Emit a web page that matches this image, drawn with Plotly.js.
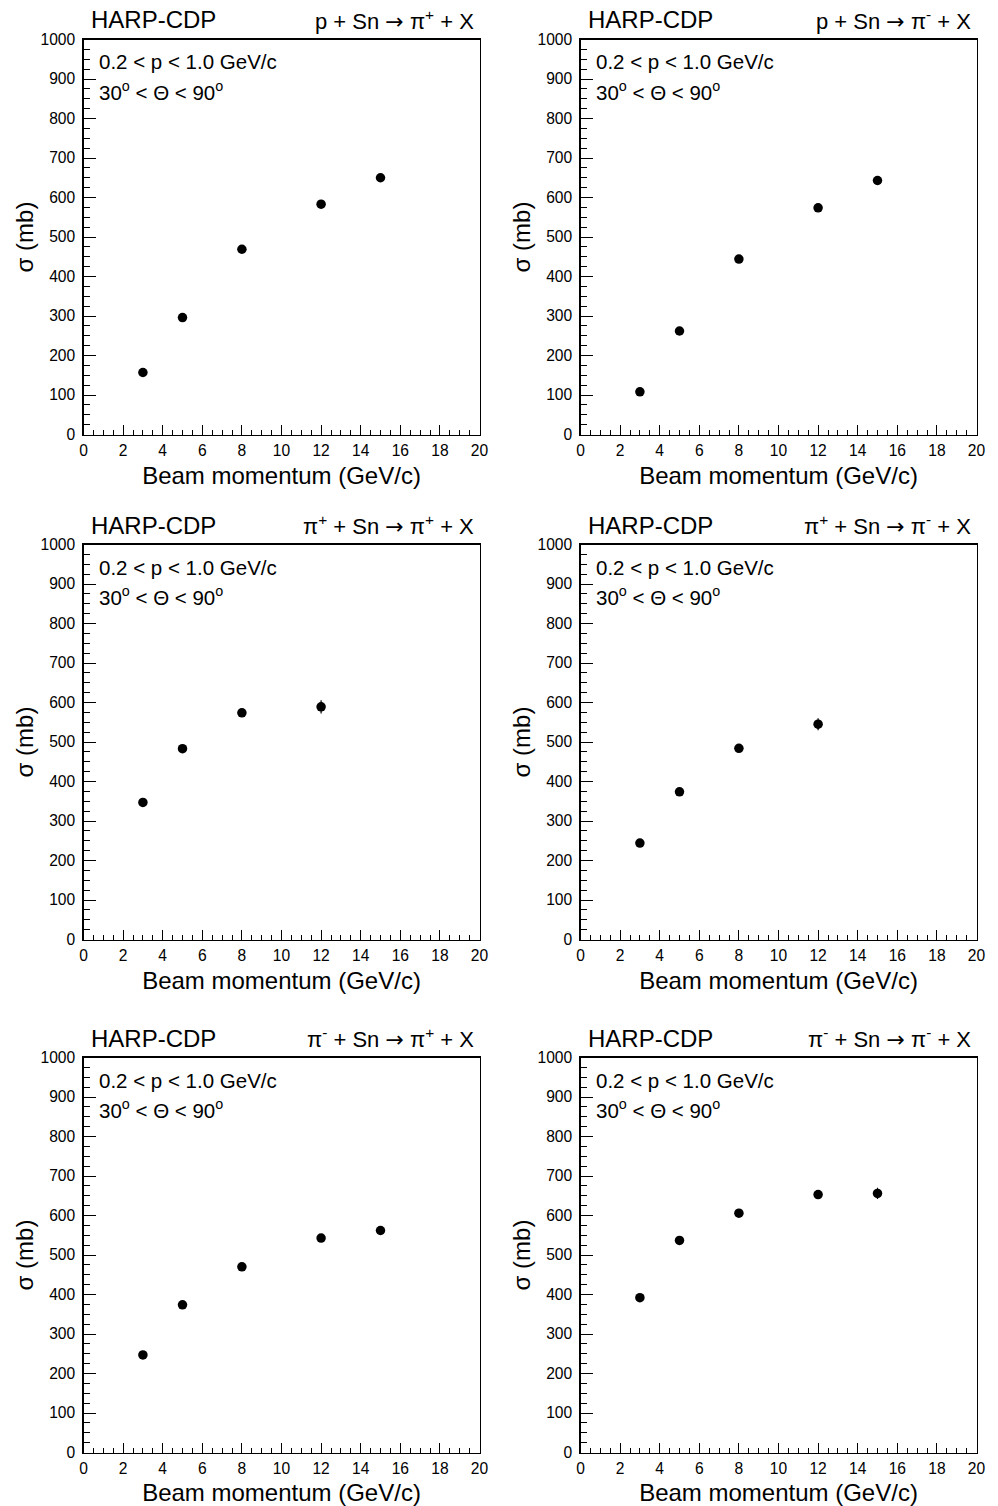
<!DOCTYPE html>
<html>
<head>
<meta charset="utf-8">
<script src="https://cdn.plot.ly/plotly-3.0.1.min.js"></script>
<style>html,body{margin:0;padding:0;background:#fff;}#plot{width:998px;height:1506px;}</style>
</head>
<body>
<div id="plot"></div>
<script>
// ---- data ----
const beamMomentum = [3, 5, 8, 12, 15];
const beamMomentumPip = [3, 5, 8, 12];

const sigma_p_pip = [157, 296, 469, 583, 650];
const err_p_pip   = [4, 5, 6, 6, 7];
const sigma_p_pim = [108, 262, 444, 574, 643];
const err_p_pim   = [3, 5, 6, 6, 7];
const sigma_pip_pip = [347, 483, 574, 589];
const err_pip_pip   = [5, 6, 7, 17];
const sigma_pip_pim = [244, 374, 484, 545];
const err_pip_pim   = [5, 5, 6, 15];
const sigma_pim_pip = [247, 374, 470, 543, 562];
const err_pim_pip   = [4, 5, 6, 6, 9];
const sigma_pim_pim = [392, 537, 606, 653, 656];
const err_pim_pim   = [5, 6, 7, 7, 14];

const ARROW = '<span style="font-family:DejaVu Sans">\u2192</span>';
const reactions = [
  "p + Sn " + ARROW + " \u03c0<sup>+</sup> + X",
  "p + Sn " + ARROW + " \u03c0<sup>-</sup> + X",
  "\u03c0<sup>+</sup> + Sn " + ARROW + " \u03c0<sup>+</sup> + X",
  "\u03c0<sup>+</sup> + Sn " + ARROW + " \u03c0<sup>-</sup> + X",
  "\u03c0<sup>-</sup> + Sn " + ARROW + " \u03c0<sup>+</sup> + X",
  "\u03c0<sup>-</sup> + Sn " + ARROW + " \u03c0<sup>-</sup> + X"
];
const experimentLabel = "HARP-CDP";
const cutLine1 = "0.2 &lt; p &lt; 1.0 GeV/c";
const cutLine2 = "30<sup>o</sup> &lt; \u0398 &lt; 90<sup>o</sup>";
const xTitle = "Beam momentum (GeV/c)";
const yTitle = "\u03c3 (mb)";
const xTickVals = [0, 2, 4, 6, 8, 10, 12, 14, 16, 18, 20];
const yTickVals = [0, 100, 200, 300, 400, 500, 600, 700, 800, 900, 1000];

const panels = [
  {x: beamMomentum, y: sigma_p_pip, e: err_p_pip},
  {x: beamMomentum, y: sigma_p_pim, e: err_p_pim},
  {x: beamMomentumPip, y: sigma_pip_pip, e: err_pip_pip},
  {x: beamMomentumPip, y: sigma_pip_pim, e: err_pip_pim},
  {x: beamMomentum, y: sigma_pim_pip, e: err_pim_pip},
  {x: beamMomentum, y: sigma_pim_pim, e: err_pim_pim}
];

// ---- layout geometry (pixels) ----
const W = 998, H = 1506;
const colLeft = [83.5, 580.5];
const plotW = 396;
const rowTop = [39.5, 544.5, 1057.5];
const plotH = 395;
const px = v => v / W;
const py = v => 1 - v / H;
const FONT = "Liberation Sans, Arial, Helvetica, sans-serif";

const traces = [];
const layout = {
  width: W, height: H,
  margin: {l: 0, r: 0, t: 0, b: 0},
  paper_bgcolor: "#ffffff",
  plot_bgcolor: "#ffffff",
  showlegend: false,
  font: {family: FONT, color: "#000"},
  annotations: []
};

panels.forEach((p, i) => {
  const col = i % 2, row = Math.floor(i / 2);
  const n = i === 0 ? "" : String(i + 1);
  const L = colLeft[col], T = rowTop[row];
  traces.push({
    type: "scatter", mode: "markers",
    x: p.x, y: p.y,
    xaxis: "x" + n, yaxis: "y" + n,
    marker: {symbol: "circle", size: 9.5, color: "#000"},
    error_y: {type: "data", array: p.e, visible: true, color: "#000", thickness: 1.2, width: 0},
    hoverinfo: "x+y"
  });
  const axCommon = {
    showgrid: false, zeroline: false,
    showline: true, linecolor: "#000", linewidth: 1.2, mirror: true,
    ticks: "inside", tickcolor: "#000", tickwidth: 1,
    tickfont: {family: FONT, size: 15.6, color: "#000"},
    fixedrange: true
  };
  layout["xaxis" + n] = Object.assign({}, axCommon, {
    domain: [px(L), px(L + plotW)],
    anchor: "y" + n,
    range: [0, 20],
    tickmode: "array", tickvals: xTickVals, ticktext: xTickVals.map(String),
    ticklen: 10,
    minor: {dtick: 0.5, ticks: "inside", ticklen: 5, tickcolor: "#000", tickwidth: 1, showgrid: false},
    ticklabelstandoff: 2,
    title: {text: xTitle, font: {family: FONT, size: 24, color: "#000"}, standoff: 8}
  });
  layout["yaxis" + n] = Object.assign({}, axCommon, {
    domain: [py(T + plotH), py(T)],
    anchor: "x" + n,
    range: [0, 1000],
    tickmode: "array", tickvals: yTickVals, ticktext: yTickVals.map(String),
    ticklen: 12,
    minor: {dtick: 25, ticks: "inside", ticklen: 6, tickcolor: "#000", tickwidth: 1, showgrid: false},
    ticklabelstandoff: 4,
    title: {text: yTitle, font: {family: FONT, size: 24, color: "#000"}, standoff: 0}
  });
  // headers
  layout.annotations.push({
    xref: "paper", yref: "paper", x: px(L + 5.5), y: py(T - 19.5),
    xanchor: "left", yanchor: "middle", showarrow: false,
    text: experimentLabel, font: {family: FONT, size: 24, color: "#000"}
  });
  layout.annotations.push({
    xref: "paper", yref: "paper", x: px(L + plotW - 4), y: py(T - 19.5),
    xanchor: "right", yanchor: "middle", showarrow: false,
    text: reactions[i], font: {family: FONT, size: 22, color: "#000"}
  });
  layout.annotations.push({
    xref: "paper", yref: "paper", x: px(L + 13), y: py(T + 22.5),
    xanchor: "left", yanchor: "middle", showarrow: false,
    text: cutLine1, font: {family: FONT, size: 20.5, color: "#000"}
  });
  layout.annotations.push({
    xref: "paper", yref: "paper", x: px(L + 13), y: py(T + 51.5),
    xanchor: "left", yanchor: "middle", showarrow: false,
    text: cutLine2, font: {family: FONT, size: 20.5, color: "#000"}
  });
});

Plotly.newPlot("plot", traces, layout, {displayModeBar: false, staticPlot: true});
</script>
</body>
</html>
